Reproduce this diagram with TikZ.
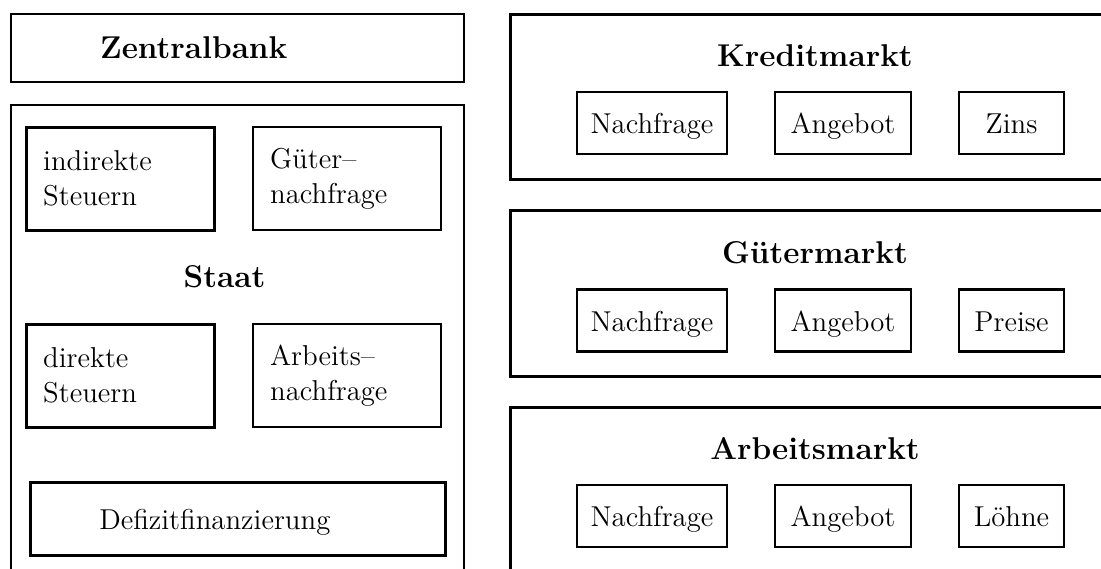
\documentclass[tikz,border=0pt]{standalone}
\usepackage{fontspec}
\usepackage{tikz}

\begin{document}
\begin{tikzpicture}[x=0.4pt,y=-0.4pt,
  panel/.style={draw,line width=0.9pt,anchor=north west,inner sep=0pt},
  mkt/.style={panel,line width=1.2pt},
  tax/.style={draw,line width=1pt,anchor=north west,font=\fontsize{11.5}{14}\selectfont,
    align=left,text width=61.6pt,inner xsep=6.8pt,minimum height=41.2pt},
  field/.style={draw,line width=0.9pt,font=\fontsize{11.5}{13.6}\selectfont,
    text height=8.5pt,text depth=0pt,minimum height=24.8pt,inner sep=0pt},
  title/.style={font=\fontsize{12.6}{15}\selectfont\bfseries,anchor=base}]

\useasboundingbox (0,0) rectangle (1101,568);
\clip (0,0) rectangle (1101,568);

% linke Spalte
\node[panel,minimum width=181.2pt,minimum height=27.4pt,inner xsep=35.6pt,text width=110pt,
  align=left,font=\fontsize{12.6}{15}\selectfont\bfseries] (zb) at (10,12.5) {Zentralbank};
\node[panel,minimum width=181.2pt,minimum height=200pt] (staat) at (10,104) {};
\node[title] (staatlbl) at (224.5,287) {Staat};
\node[tax] (indst) at (25,126) {indirekte\\Steuern};
\node[tax,line width=0.9pt] (gnf) at (252,126) {Güter--\\nachfrage};
\node[tax] (dirst) at (25,323) {direkte\\Steuern};
\node[tax,line width=0.9pt] (anf) at (252,323) {Arbeits--\\nachfrage};
\node[draw,line width=1pt,anchor=north west,font=\fontsize{11.5}{13.6}\selectfont,
  align=left,text width=110.8pt,inner xsep=27.6pt,text height=8.5pt,text depth=0pt,
  minimum height=29.2pt] (defizit) at (29,481) {Defizitfinanzierung};

% Maerkte
\node[mkt,minimum width=244.8pt,minimum height=66pt] (kredit) at (509,12.5) {};
\node[mkt,minimum width=244.8pt,minimum height=66.4pt] (gueter) at (509,209) {};
\node[mkt,minimum width=244.8pt,minimum height=200pt] (arbeit) at (509,406) {};
\node[title] (kreditlbl) at (815,66) {Kreditmarkt};
\node[title] (gueterlbl) at (815,263) {Gütermarkt};
\node[title] (arbeitlbl) at (815,459) {Arbeitsmarkt};

\foreach \m/\y/\last in {kredit/123/Zins,gueter/320.5/Preise,arbeit/516/Löhne}
{
  \node[field,minimum width=60pt] (\m-nf) at (652,\y) {Nachfrage};
  \node[field,minimum width=54.4pt] (\m-ang) at (843,\y) {Angebot};
  \node[field,minimum width=42pt] (\m-last) at (1011.5,\y) {\last};
}
\end{tikzpicture}
\end{document}
